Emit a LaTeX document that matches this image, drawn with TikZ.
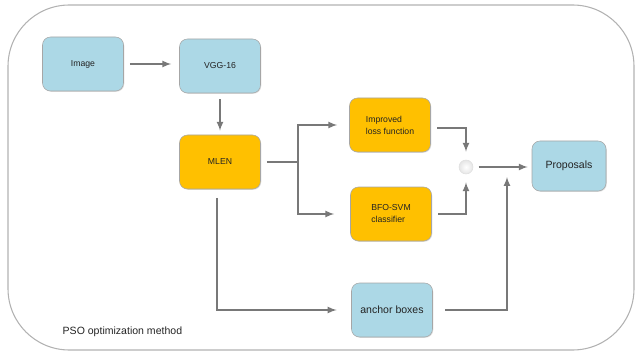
\documentclass[tikz,border=0pt]{standalone}
\usepackage{fontspec}
\setmainfont{Liberation Sans}
\usepackage{tikz}
\usetikzlibrary{arrows,shadows}

\definecolor{boxblue}{RGB}{172,216,230}
\definecolor{boxgold}{RGB}{255,192,0}
\definecolor{linegray}{RGB}{120,120,120}
\definecolor{textgray}{RGB}{35,35,35}

\tikzset{
  block/.style={draw=gray!70, rounded corners=6pt, minimum width=60.75pt,
    minimum height=40.5pt, inner sep=1pt, text=textgray,
    drop shadow={shadow xshift=0.6pt, shadow yshift=-0.6pt, opacity=0.25}},
  blueblock/.style={block, fill=boxblue},
  goldblock/.style={block, fill=boxgold},
  flow/.style={->, >=latex, draw=linegray, line width=1.3pt},
  wire/.style={draw=linegray, line width=1.3pt}
}

\begin{document}
\begin{tikzpicture}[x=0.75pt, y=-0.75pt]
    \useasboundingbox (0,0) rectangle (636,353);
    \draw[gray!60, line width=0.8pt, rounded corners=46pt] (8,5) rectangle (634,350);

    \node[blueblock, font=\fontsize{6.5}{8}\selectfont] (image) at (83,64) {Image};
    \node[blueblock, font=\fontsize{6.5}{8}\selectfont] (vgg) at (220,66) {VGG-16};
    \node[goldblock, font=\fontsize{6.5}{8}\selectfont] (mlen) at (220,162) {MLEN};
    \node[goldblock, font=\fontsize{6.5}{9}\selectfont, align=left] (loss) at (390,125) {Improved\\loss function};
    \node[goldblock, font=\fontsize{6.5}{9}\selectfont, align=left] (svm) at (391,214) {BFO-SVM\\classifier};
    \node[blueblock, font=\fontsize{7.9}{9}\selectfont] (anchor) at (392,310) {anchor boxes};
    \node[blueblock, font=\fontsize{7.9}{9}\selectfont, minimum width=55.5pt, minimum height=37.5pt] (prop) at (569,166) {Proposals};
    \node[circle, draw=gray!25, inner color=white, outer color=gray!20, inner sep=0pt, minimum size=10.5pt] (join) at (466,167) {};
    \node[anchor=west, text=textgray, font=\fontsize{7.9}{9}\selectfont] (pso) at (58,332) {PSO optimization method};

    \coordinate (fork) at (298,162);
    \coordinate (intake) at (507,177);

    \draw[flow, shorten <=4.5pt, shorten >=6pt] (image.east) -- (vgg.west |- image.east);
    \draw[flow, shorten <=4.5pt, shorten >=3pt] (vgg.south) -- (mlen.north);
    \draw[wire, shorten <=4.5pt] (mlen.east) -- (fork);
    \draw[flow, shorten >=9pt] (fork) |- (loss.west);
    \draw[flow, shorten >=12pt] (fork) |- (svm.west);
    \draw[flow, shorten <=5pt, shorten >=6pt] ([yshift=-2.25pt]loss.east) -| (join.north);
    \draw[flow, shorten <=5pt, shorten >=6pt] (svm.east) -| (join.south);
    \draw[flow, shorten <=4pt, shorten >=3pt] (join.east) -- (prop.west |- join.east);
    \draw[flow, shorten <=6.5pt, shorten >=11pt] ([xshift=-2.25pt]mlen.south) |- (anchor.west);
    \draw[flow, shorten <=9.5pt] (anchor.east) -| (intake);
\end{tikzpicture}
\end{document}
